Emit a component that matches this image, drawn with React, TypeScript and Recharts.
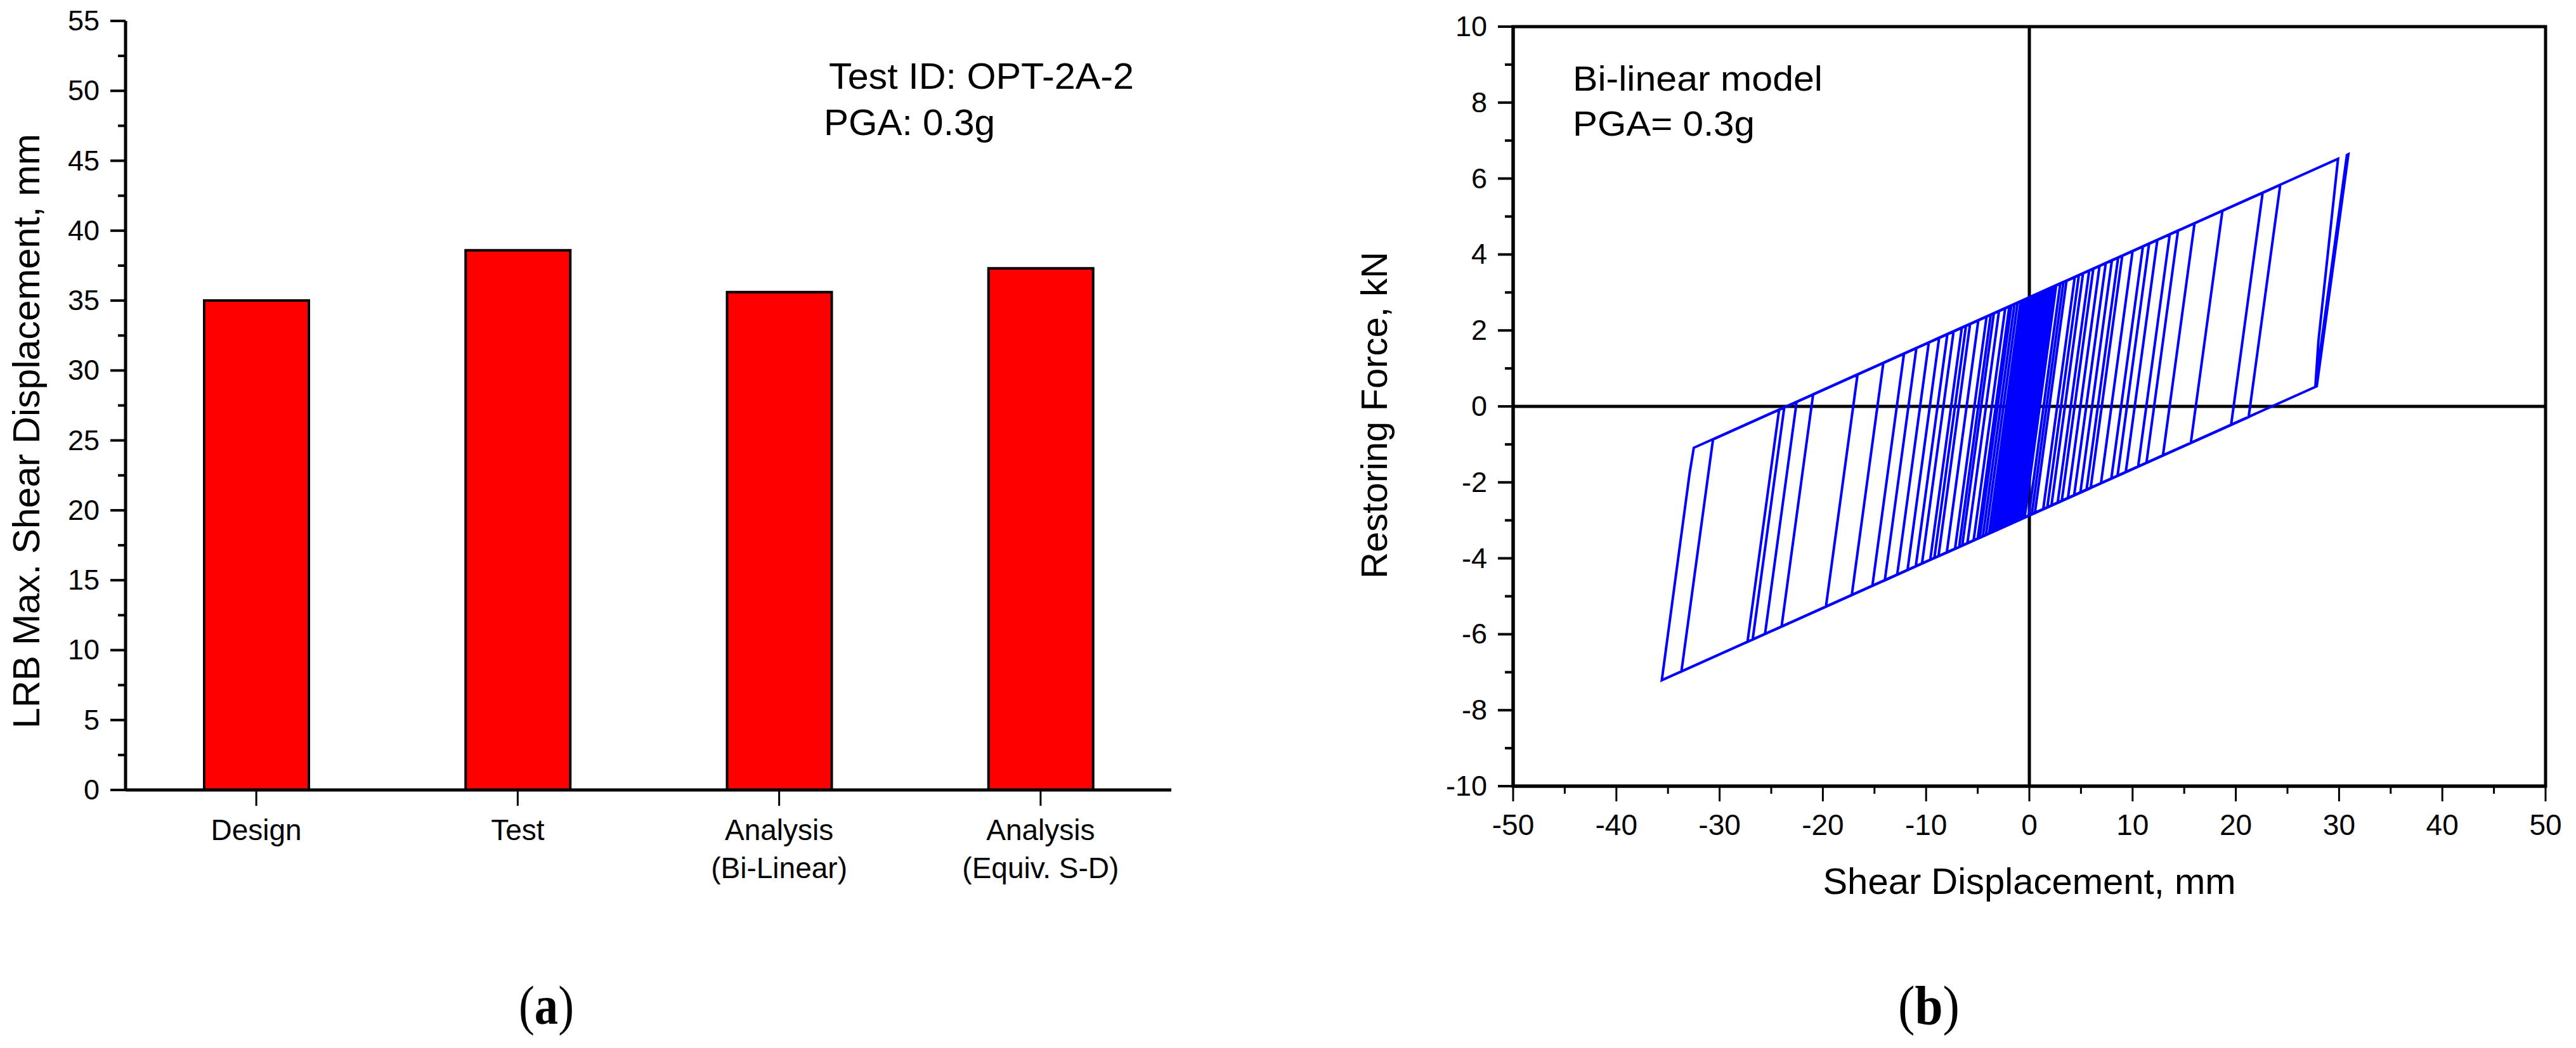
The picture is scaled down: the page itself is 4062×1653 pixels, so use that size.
import React from 'react';
import {
  BarChart,
  Bar,
  XAxis,
  YAxis,
  LineChart,
  Line,
  ReferenceLine,
  ReferenceArea,
} from 'recharts';

const SANS = '"Liberation Sans", Arial, Helvetica, sans-serif';
const SERIF = '"Liberation Serif", "Times New Roman", serif';

// ---------- (a) bar chart data ----------
const categories = ['Design', 'Test', 'Analysis\n(Bi-Linear)', 'Analysis\n(Equiv. S-D)'];
const maxShearDisplacement = [35.0, 38.6, 35.6, 37.3];
const barYTicks = [0, 2.5, 5, 7.5, 10, 12.5, 15, 17.5, 20, 22.5, 25, 27.5, 30, 32.5, 35, 37.5, 40, 42.5, 45, 47.5, 50, 52.5, 55];

// ---------- (b) hysteresis loop data: [shear displacement mm, restoring force kN] ----------
const hysteresisPoints: [number, number][] = [
  [0, 0],
  [1.5, 3.05], [-1.56, -3.06], [-2.0, -3.11], [1.06, 3.0],
  [2.2, 3.14], [-0.86, -2.97], [-3.0, -3.24], [0.06, 2.88],
  [3.6, 3.31], [0.54, -2.8], [-4.2, -3.38], [-1.14, 2.73],
  [5.2, 3.5], [2.14, -2.61], [-6.5, -3.66], [-3.44, 2.45],
  [8.0, 3.85], [4.94, -2.27], [-9.6, -4.04], [-6.54, 2.07],
  [11.6, 4.29], [8.54, -1.83], [-12.8, -4.43], [-9.74, 1.68],
  [16.0, 4.82], [12.94, -1.29], [-17.2, -4.97], [-14.14, 1.15],
  [22.6, 5.63], [19.54, -0.49], [-24.0, -5.8], [-20.94, 0.32],
  [29.9, 6.52], [28.0, 1.72], [27.7, 0.51], [30.76, 6.62], [30.9, 6.64], [27.84, 0.53],
  [-35.6, -7.21], [-32.9, -1.75], [-32.5, -1.09],
  [24.3, 5.83], [21.24, -0.28], [-33.7, -6.98], [-30.64, -0.87],
  [18.7, 5.15], [15.64, -0.96], [-27.3, -6.2], [-24.24, -0.09],
  [14.4, 4.63], [11.34, -1.49], [-26.8, -6.14], [-23.74, -0.03],
  [13.6, 4.53], [10.54, -1.58], [-25.6, -5.99], [-22.54, 0.12],
  [12.4, 4.38], [9.34, -1.73], [-14.0, -4.58], [-10.94, 1.54],
  [10.0, 4.09], [6.94, -2.02], [-19.7, -5.27], [-16.64, 0.84],
  [9.0, 3.97], [5.94, -2.15], [-10.4, -4.14], [-7.34, 1.97],
  [6.8, 3.7], [3.74, -2.41], [-15.2, -4.72], [-12.14, 1.39],
  [7.4, 3.77], [4.34, -2.34], [-8.8, -3.94], [-5.74, 2.17],
  [5.8, 3.58], [2.74, -2.54], [-7.2, -3.75], [-4.14, 2.37],
  [4.4, 3.41], [1.34, -2.71], [-11.0, -4.21], [-7.94, 1.9],
  [3.0, 3.24], [-0.06, -2.88], [-8.0, -3.85], [-4.94, 2.27],
  [3.3, 3.27], [0.24, -2.84], [-5.4, -3.53], [-2.34, 2.58],
  [2.0, 3.11], [-1.06, -3.0], [-6.0, -3.6], [-2.94, 2.51],
  [1.2, 3.02], [-1.86, -3.1], [-4.8, -3.46], [-1.74, 2.66],
  [0.8, 2.97], [-2.26, -3.15], [-3.6, -3.31], [-0.54, 2.8],
  [1.8, 3.09], [-1.26, -3.02], [-2.6, -3.19], [0.46, 2.93],
  [0.5, 2.93], [-2.56, -3.18], [-3.3, -3.27], [-0.24, 2.84],
  [2.6, 3.19], [-0.46, -2.93], [-1.5, -3.05], [1.56, 3.06],
  [1.9, 3.1], [-1.16, -3.01], [-2.3, -3.15], [0.76, 2.96],
  [11.0, 4.21], [7.94, -1.9], [-11.8, -4.31], [-8.74, 1.8],
  [8.6, 3.92], [5.54, -2.19], [-9.2, -3.99], [-6.14, 2.12],
  [6.2, 3.63], [3.14, -2.49], [-6.8, -3.7], [-3.74, 2.41],
  [4.8, 3.46], [1.74, -2.66], [-5.0, -3.48], [-1.94, 2.63],
  [2.4, 3.16], [-0.66, -2.95], [-4.5, -3.42], [-1.44, 2.69],
  [1.4, 3.04], [-1.66, -3.07], [-3.9, -3.35], [-0.84, 2.77],
  [0.2, 2.89], [-2.86, -3.22], [-3.4, -3.28], [-0.34, 2.83],
  [1.1, 3.0], [-1.96, -3.11], [-2.9, -3.22], [0.16, 2.89],
  [0.6, 2.94], [-2.46, -3.17], [-3.7, -3.32], [-0.64, 2.79],
  [1.7, 3.08], [-1.36, -3.04], [-2.4, -3.16], [0.66, 2.95],
  [0.9, 2.98], [-2.16, -3.13], [-3.1, -3.25], [-0.04, 2.86],
  [1.0, 2.99], [-1.5, -2.0], [0.3, 1.6], [-1.8, -2.6], [-2.06, -3.12], [-2.8, -3.21],
  [0.26, 2.9], [0.9, 2.98], [-0.6, -0.02],
];
const loopXTicks = [-50, -45, -40, -35, -30, -25, -20, -15, -10, -5, 0, 5, 10, 15, 20, 25, 30, 35, 40, 45, 50];
const loopYTicks = [-10, -9, -8, -7, -6, -5, -4, -3, -2, -1, 0, 1, 2, 3, 4, 5, 6, 7, 8, 9, 10];

const barData = categories.map((name, i) => ({ name, value: maxShearDisplacement[i] }));
const loopData = hysteresisPoints.map(([d, f]) => ({ d, f }));

// ---------- custom ticks ----------
const leftTick = (isMajor: (v: number) => boolean, minorLen: number) => (props: any) => {
  const { x, y, payload } = props;
  const v = payload.value;
  const maj = isMajor(v);
  // x = axisX - tickSize(24) - tickMargin(17)
  return (
    <g>
      <line x1={x + 41 - (maj ? 24 : minorLen)} x2={x + 41} y1={y} y2={y} stroke="#000" strokeWidth={4} />
      {maj && (
        <text x={x} y={y + 15} textAnchor="end" fontSize={45} fontFamily={SANS} fill="#000">
          {String(v)}
        </text>
      )}
    </g>
  );
};

const bottomNumTick = (props: any) => {
  const { x, y, payload } = props;
  const v = payload.value;
  const maj = v % 10 === 0;
  const axisY = y - 24;
  return (
    <g>
      <line x1={x} x2={x} y1={axisY} y2={axisY + (maj ? 24 : 12)} stroke="#000" strokeWidth={3} />
      {maj && (
        <text x={x} y={axisY + 77} textAnchor="middle" fontSize={46} fontFamily={SANS} fill="#000">
          {String(v)}
        </text>
      )}
    </g>
  );
};

const categoryTick = (props: any) => {
  const { x, y, payload } = props;
  const lines = String(payload.value).split('\n');
  const axisY = y - 23;
  return (
    <g>
      <line x1={x} x2={x} y1={axisY + 2} y2={axisY + 25} stroke="#000" strokeWidth={3} />
      {lines.map((ln, i) => (
        <text key={i} x={x} y={axisY + 79 + i * 60} textAnchor="middle" fontSize={46} fontFamily={SANS} fill="#000">
          {ln}
        </text>
      ))}
    </g>
  );
};

export default function App() {
  return (
    <div style={{ position: 'absolute', left: 0, top: 0, width: 4062, height: 1653, background: '#fff', overflow: 'hidden' }}>
      {/* (a) Bar chart */}
      <div style={{ position: 'absolute', left: 0, top: 0 }}>
        <BarChart width={1900} height={1450} data={barData} margin={{ top: 33, right: 53, bottom: 44, left: 78 }}>
          <XAxis
            dataKey="name"
            type="category"
            height={160}
            interval={0}
            tickSize={23}
            tickMargin={0}
            tickLine={false}
            tick={categoryTick}
            axisLine={{ stroke: '#000', strokeWidth: 5 }}
          />
          <XAxis xAxisId="top" dataKey="name" orientation="top" height={0} tick={false} tickLine={false} axisLine={{ stroke: '#000', strokeWidth: 5 }} />
          <YAxis
            type="number"
            domain={[0, 55]}
            ticks={barYTicks}
            interval={0}
            width={120}
            tickSize={24}
            tickMargin={17}
            tickLine={false}
            tick={leftTick((v) => v % 5 === 0, 12)}
            axisLine={{ stroke: '#000', strokeWidth: 5 }}
            label={() => (
              <text transform="translate(62,680) rotate(-90)" textAnchor="middle" fontSize={59} fontFamily={SANS} fill="#000">
                LRB Max. Shear Displacement, mm
              </text>
            )}
          />
          <YAxis yAxisId="right" orientation="right" type="number" domain={[0, 55]} width={0} tick={false} tickLine={false} axisLine={{ stroke: '#000', strokeWidth: 5 }} />
          <Bar dataKey="value" fill="#FF0000" stroke="#000" strokeWidth={4} barSize={165} isAnimationActive={false} />
        </BarChart>
      </div>

      {/* (b) Hysteresis loop */}
      <div style={{ position: 'absolute', left: 2100, top: 0 }}>
        <LineChart width={1962} height={1450} data={loopData} margin={{ top: 42, right: 48, bottom: 50, left: 136 }}>
          <XAxis
            dataKey="d"
            type="number"
            domain={[-50, 50]}
            ticks={loopXTicks}
            interval={0}
            allowDataOverflow
            height={160}
            tickSize={24}
            tickMargin={0}
            tickLine={false}
            tick={bottomNumTick}
            axisLine={{ stroke: '#000', strokeWidth: 5 }}
            label={() => (
              <text x={1100} y={1410} textAnchor="middle" fontSize={58} fontFamily={SANS} fill="#000">
                Shear Displacement, mm
              </text>
            )}
          />
          <YAxis
            type="number"
            domain={[-10, 10]}
            ticks={loopYTicks}
            interval={0}
            allowDataOverflow
            width={150}
            tickSize={24}
            tickMargin={17}
            tickLine={false}
            tick={leftTick((v) => v % 2 === 0, 13)}
            axisLine={{ stroke: '#000', strokeWidth: 5 }}
            label={() => (
              <text transform="translate(87,655) rotate(-90)" textAnchor="middle" fontSize={58} fontFamily={SANS} fill="#000">
                Restoring Force, kN
              </text>
            )}
          />
          <ReferenceArea x1={-50} x2={50} y1={-10} y2={10} fill="none" fillOpacity={0} stroke="#000" strokeWidth={5} />
          <ReferenceLine x={0} stroke="#000" strokeWidth={5} />
          <ReferenceLine y={0} stroke="#000" strokeWidth={5} />
          <Line
            dataKey="f"
            type="linear"
            stroke="#0000FF"
            strokeWidth={4}
            dot={false}
            activeDot={false}
            isAnimationActive={false}
          />
        </LineChart>
      </div>

      {/* annotations and panel captions */}
      <svg width={4062} height={1653} style={{ position: 'absolute', left: 0, top: 0, pointerEvents: 'none' }}>
        <text x={1307} y={140} fontSize={57} fontFamily={SANS} fill="#000" textLength={481} lengthAdjust="spacingAndGlyphs">
          Test ID: OPT-2A-2
        </text>
        <text x={1299} y={213} fontSize={57} fontFamily={SANS} fill="#000" textLength={270} lengthAdjust="spacingAndGlyphs">
          PGA: 0.3g
        </text>
        <text x={2480} y={143} fontSize={55} fontFamily={SANS} fill="#000" textLength={394} lengthAdjust="spacingAndGlyphs">
          Bi-linear model
        </text>
        <text x={2480} y={214} fontSize={55} fontFamily={SANS} fill="#000" textLength={287} lengthAdjust="spacingAndGlyphs">
          PGA= 0.3g
        </text>
        <text x={818} y={1615} fontSize={86} fontFamily={SERIF} fill="#000" textLength={87} lengthAdjust="spacingAndGlyphs">
          (<tspan fontWeight="bold">a</tspan>)
        </text>
        <text x={2993} y={1615} fontSize={86} fontFamily={SERIF} fill="#000" textLength={97} lengthAdjust="spacingAndGlyphs">
          (<tspan fontWeight="bold">b</tspan>)
        </text>
      </svg>
    </div>
  );
}
